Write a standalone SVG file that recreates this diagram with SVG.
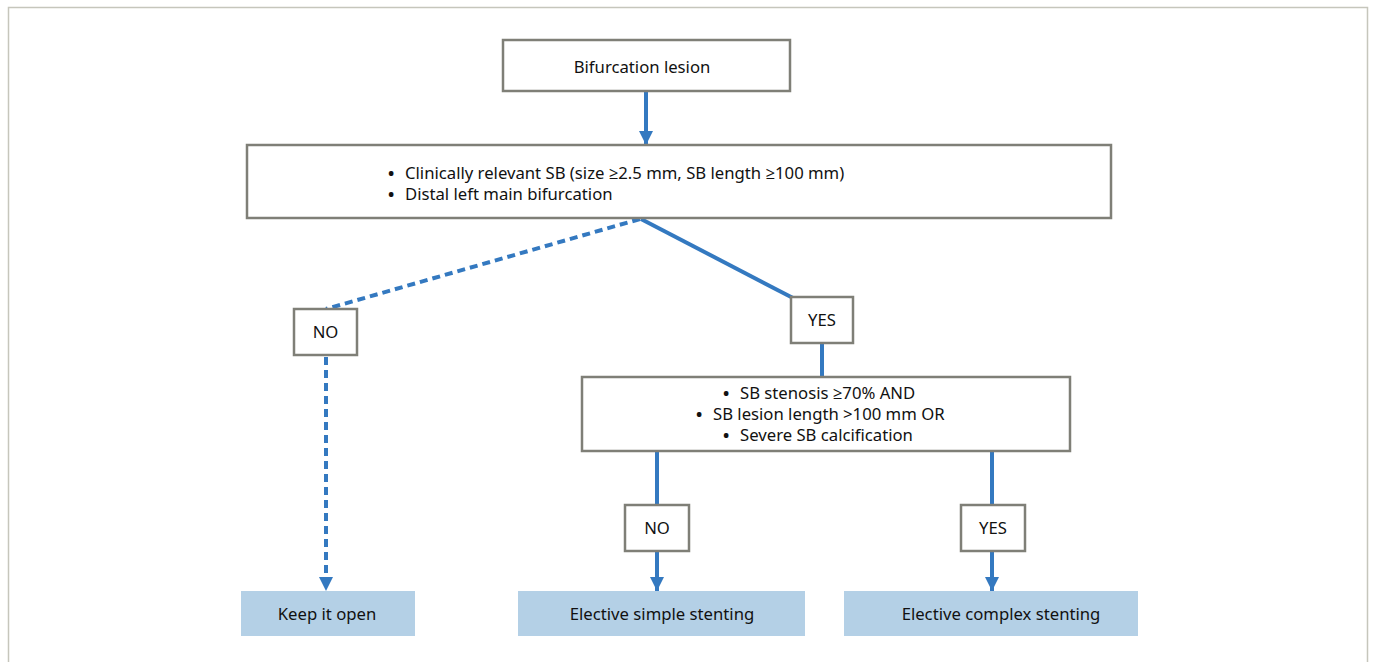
<svg xmlns="http://www.w3.org/2000/svg" width="1375" height="662" viewBox="0 0 1375 662">
<defs>
<marker id="ah" viewBox="0 0 10 10" refX="10" refY="5" markerWidth="14" markerHeight="14" markerUnits="userSpaceOnUse" orient="auto">
<path d="M0,0 L10,5 L0,10 Z" fill="#3479c0"/>
</marker>
<style>
.frame{fill:none;stroke:#c6c6bc;stroke-width:1.5}
.box{fill:#fff;stroke:#7f7f77;stroke-width:2.5}
.out{fill:#b4d0e6;stroke:none}
.t{font-family:"Noto Sans","Open Sans",sans-serif;font-size:16.7px;fill:#111}
.b{font-family:"Noto Sans","Open Sans",sans-serif;font-size:16.7px;font-weight:bold;fill:#111}
.c{stroke:#3479c0;stroke-width:4;fill:none}
.d{stroke-dasharray:8 5}
</style>
</defs>
<rect width="1375" height="662" fill="#fff"/>
<path class="frame" d="M8.5,670 L8.5,7.5 L1367.5,7.5 L1367.5,670"/>
<g id="connectors">
<line class="c" x1="646" y1="92" x2="646" y2="145" marker-end="url(#ah)"/>
<line class="c d" x1="640" y1="219" x2="326" y2="309"/>
<line class="c" x1="641" y1="219" x2="793" y2="298"/>
<line class="c" x1="822" y1="343" x2="822" y2="377"/>
<line class="c d" x1="326" y1="357" x2="326" y2="591" marker-end="url(#ah)"/>
<line class="c" x1="657" y1="451" x2="657" y2="505"/>
<line class="c" x1="657" y1="551" x2="657" y2="591" marker-end="url(#ah)"/>
<line class="c" x1="992" y1="451" x2="992" y2="505"/>
<line class="c" x1="992" y1="551" x2="992" y2="591" marker-end="url(#ah)"/>
</g>
<g id="start">
<rect class="box" x="503" y="40" width="287" height="51"/>
<text class="t" x="642" y="73" text-anchor="middle">Bifurcation lesion</text>
</g>
<g id="criteria1">
<rect class="box" x="247" y="145" width="864" height="73"/>
<text class="b" x="388" y="179">•</text>
<text class="t" x="405" y="179">Clinically relevant SB (size ≥2.5 mm, SB length ≥100 mm)</text>
<text class="b" x="388" y="200">•</text>
<text class="t" x="405" y="200">Distal left main bifurcation</text>
</g>
<g id="no1">
<rect class="box" x="294" y="309" width="63" height="46"/>
<text class="t" x="325.5" y="338" text-anchor="middle">NO</text>
</g>
<g id="yes1">
<rect class="box" x="791" y="297" width="62" height="46"/>
<text class="t" x="822" y="326" text-anchor="middle">YES</text>
</g>
<g id="criteria2">
<rect class="box" x="582" y="377" width="488" height="74"/>
<text class="b" x="723" y="399">•</text>
<text class="t" x="740" y="399">SB stenosis ≥70% AND</text>
<text class="b" x="696" y="420">•</text>
<text class="t" x="713" y="420">SB lesion length &gt;100 mm OR</text>
<text class="b" x="723" y="441">•</text>
<text class="t" x="740" y="441">Severe SB calcification</text>
</g>
<g id="no2">
<rect class="box" x="625" y="505" width="64" height="46"/>
<text class="t" x="657" y="534" text-anchor="middle">NO</text>
</g>
<g id="yes2">
<rect class="box" x="961" y="505" width="64" height="46"/>
<text class="t" x="993" y="534" text-anchor="middle">YES</text>
</g>
<g id="keep">
<rect class="out" x="241" y="591" width="174" height="45"/>
<text class="t" x="327" y="620" text-anchor="middle">Keep it open</text>
</g>
<g id="simple">
<rect class="out" x="518" y="591" width="287" height="45"/>
<text class="t" x="662" y="620" text-anchor="middle">Elective simple stenting</text>
</g>
<g id="complex">
<rect class="out" x="844" y="591" width="294" height="45"/>
<text class="t" x="1001" y="620" text-anchor="middle">Elective complex stenting</text>
</g>
</svg>
